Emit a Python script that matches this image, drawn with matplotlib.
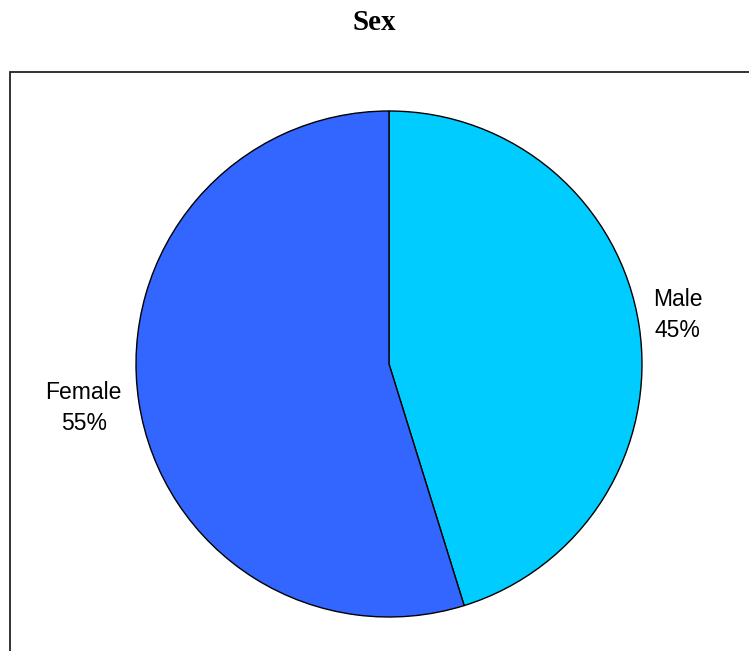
import matplotlib.pyplot as plt
from matplotlib.patches import Rectangle

# data (shares; labels show them rounded)
labels = ['Male', 'Female']
shares = [45.2, 54.8]
colors = ['#00CCFF', '#3366FF']

W, H = 749, 651
fig = plt.figure(figsize=(W / 100, H / 100), dpi=100)

# outer frame (only the left and top edges fall inside the image)
fig.patches.append(Rectangle((10 / W, -0.2), 2.0, 1.2 - 72 / H, transform=fig.transFigure,
                             fill=False, edgecolor='#222222', linewidth=1.3))

fig.text(0.5, 1 - 23 / H, 'Sex', ha='center', va='center',
         family='Liberation Serif', fontweight='bold', fontsize=21)

# pie: centre (389, 364) px, radius 253 px
cx, cy, r = 389, 364, 253
ax = fig.add_axes([(cx - r) / W, (H - cy - r) / H, 2 * r / W, 2 * r / H])
wedges, _ = ax.pie(shares, colors=colors, startangle=90, counterclock=False,
                   wedgeprops=dict(edgecolor='black', linewidth=1.0))
ax.set_xlim(-1, 1)
ax.set_ylim(-1, 1)
ax.set_aspect('equal')
ax.axis('off')

label_pos = [(1.142, 0.194), (-1.207, -0.174)]
for lab, val, (x, y) in zip(labels, shares, label_pos):
    ax.text(x, y, f'{lab}\n{val:.0f}%', ha='center', va='center', family='Liberation Sans',
            fontsize=16.5, linespacing=1.45, clip_on=False)

fig.savefig('out.png', dpi=100)
